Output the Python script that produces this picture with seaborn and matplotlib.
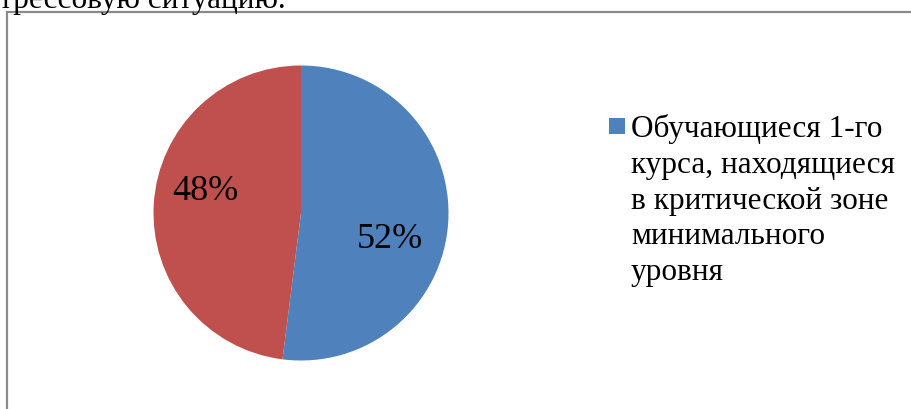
import matplotlib
matplotlib.use("Agg")
import matplotlib.pyplot as plt
import seaborn as sns
from matplotlib.patches import Rectangle

sns.set_theme(style="white")
plt.rcParams['font.family'] = ['Liberation Serif', 'DejaVu Serif']

# Shares of first-year students by stress-resistance zone
legend_lines = ["Обучающиеся 1-го", "курса, находящиеся", "в критической зоне",
                "минимального", "уровня"]
shares = [52, 48]
colors = ["#4F81BD", "#C0504D"]
caption = "трессовую ситуацию."

W, H = 912, 410
fig = plt.figure(figsize=(W / 100, H / 100), dpi=100)
fig.patch.set_facecolor("white")

# Pie axes: centre (301, 214) px, radius 147.5 px
cx, cy, r = 301, 214, 147.5
ax = fig.add_axes([(cx - r) / W, (H - cy - r) / H, 2 * r / W, 2 * r / H])
wedges, _, autotexts = ax.pie(
    shares, colors=colors, startangle=90, counterclock=False,
    autopct=lambda p: f"{p:.0f}%", pctdistance=0.62,
    wedgeprops=dict(linewidth=0),
    textprops=dict(fontsize=26, color="black"),
)
ax.set_xlim(-1, 1)
ax.set_ylim(-1, 1)
ax.set_aspect("equal")
ax.axis("off")

# Label placement
autotexts[0].set_position(((390 - cx) / r, (cy - 240) / r))
autotexts[1].set_position(((205 - cx) / r, (cy - 192) / r))
for t in autotexts:
    t.set_ha("center")
    t.set_va("center")

# Chart frame (continues past the right and bottom edges)
fig.add_artist(Rectangle((7.5 / W, -0.2), 1.2, (H - 12.5) / H + 0.2,
                         transform=fig.transFigure, fill=False,
                         edgecolor="#8a8a8a", linewidth=1.6, clip_on=False))

# Legend: marker and wrapped label
fig.add_artist(Rectangle((609 / W, (H - 135) / H), 16 / W, 16 / H,
                         transform=fig.transFigure, facecolor=colors[0],
                         edgecolor="none"))
for i, line in enumerate(legend_lines):
    fig.text(631 / W, (H - (137 + i * 35.8)) / H, line, fontsize=22.5,
             ha="left", va="baseline", color="black")

# Text line above the chart
fig.text(-1 / W, (H - 8) / H, caption, fontsize=22.5, ha="left",
         va="baseline", color="black")

fig.savefig("out.png", dpi=100, facecolor="white")
